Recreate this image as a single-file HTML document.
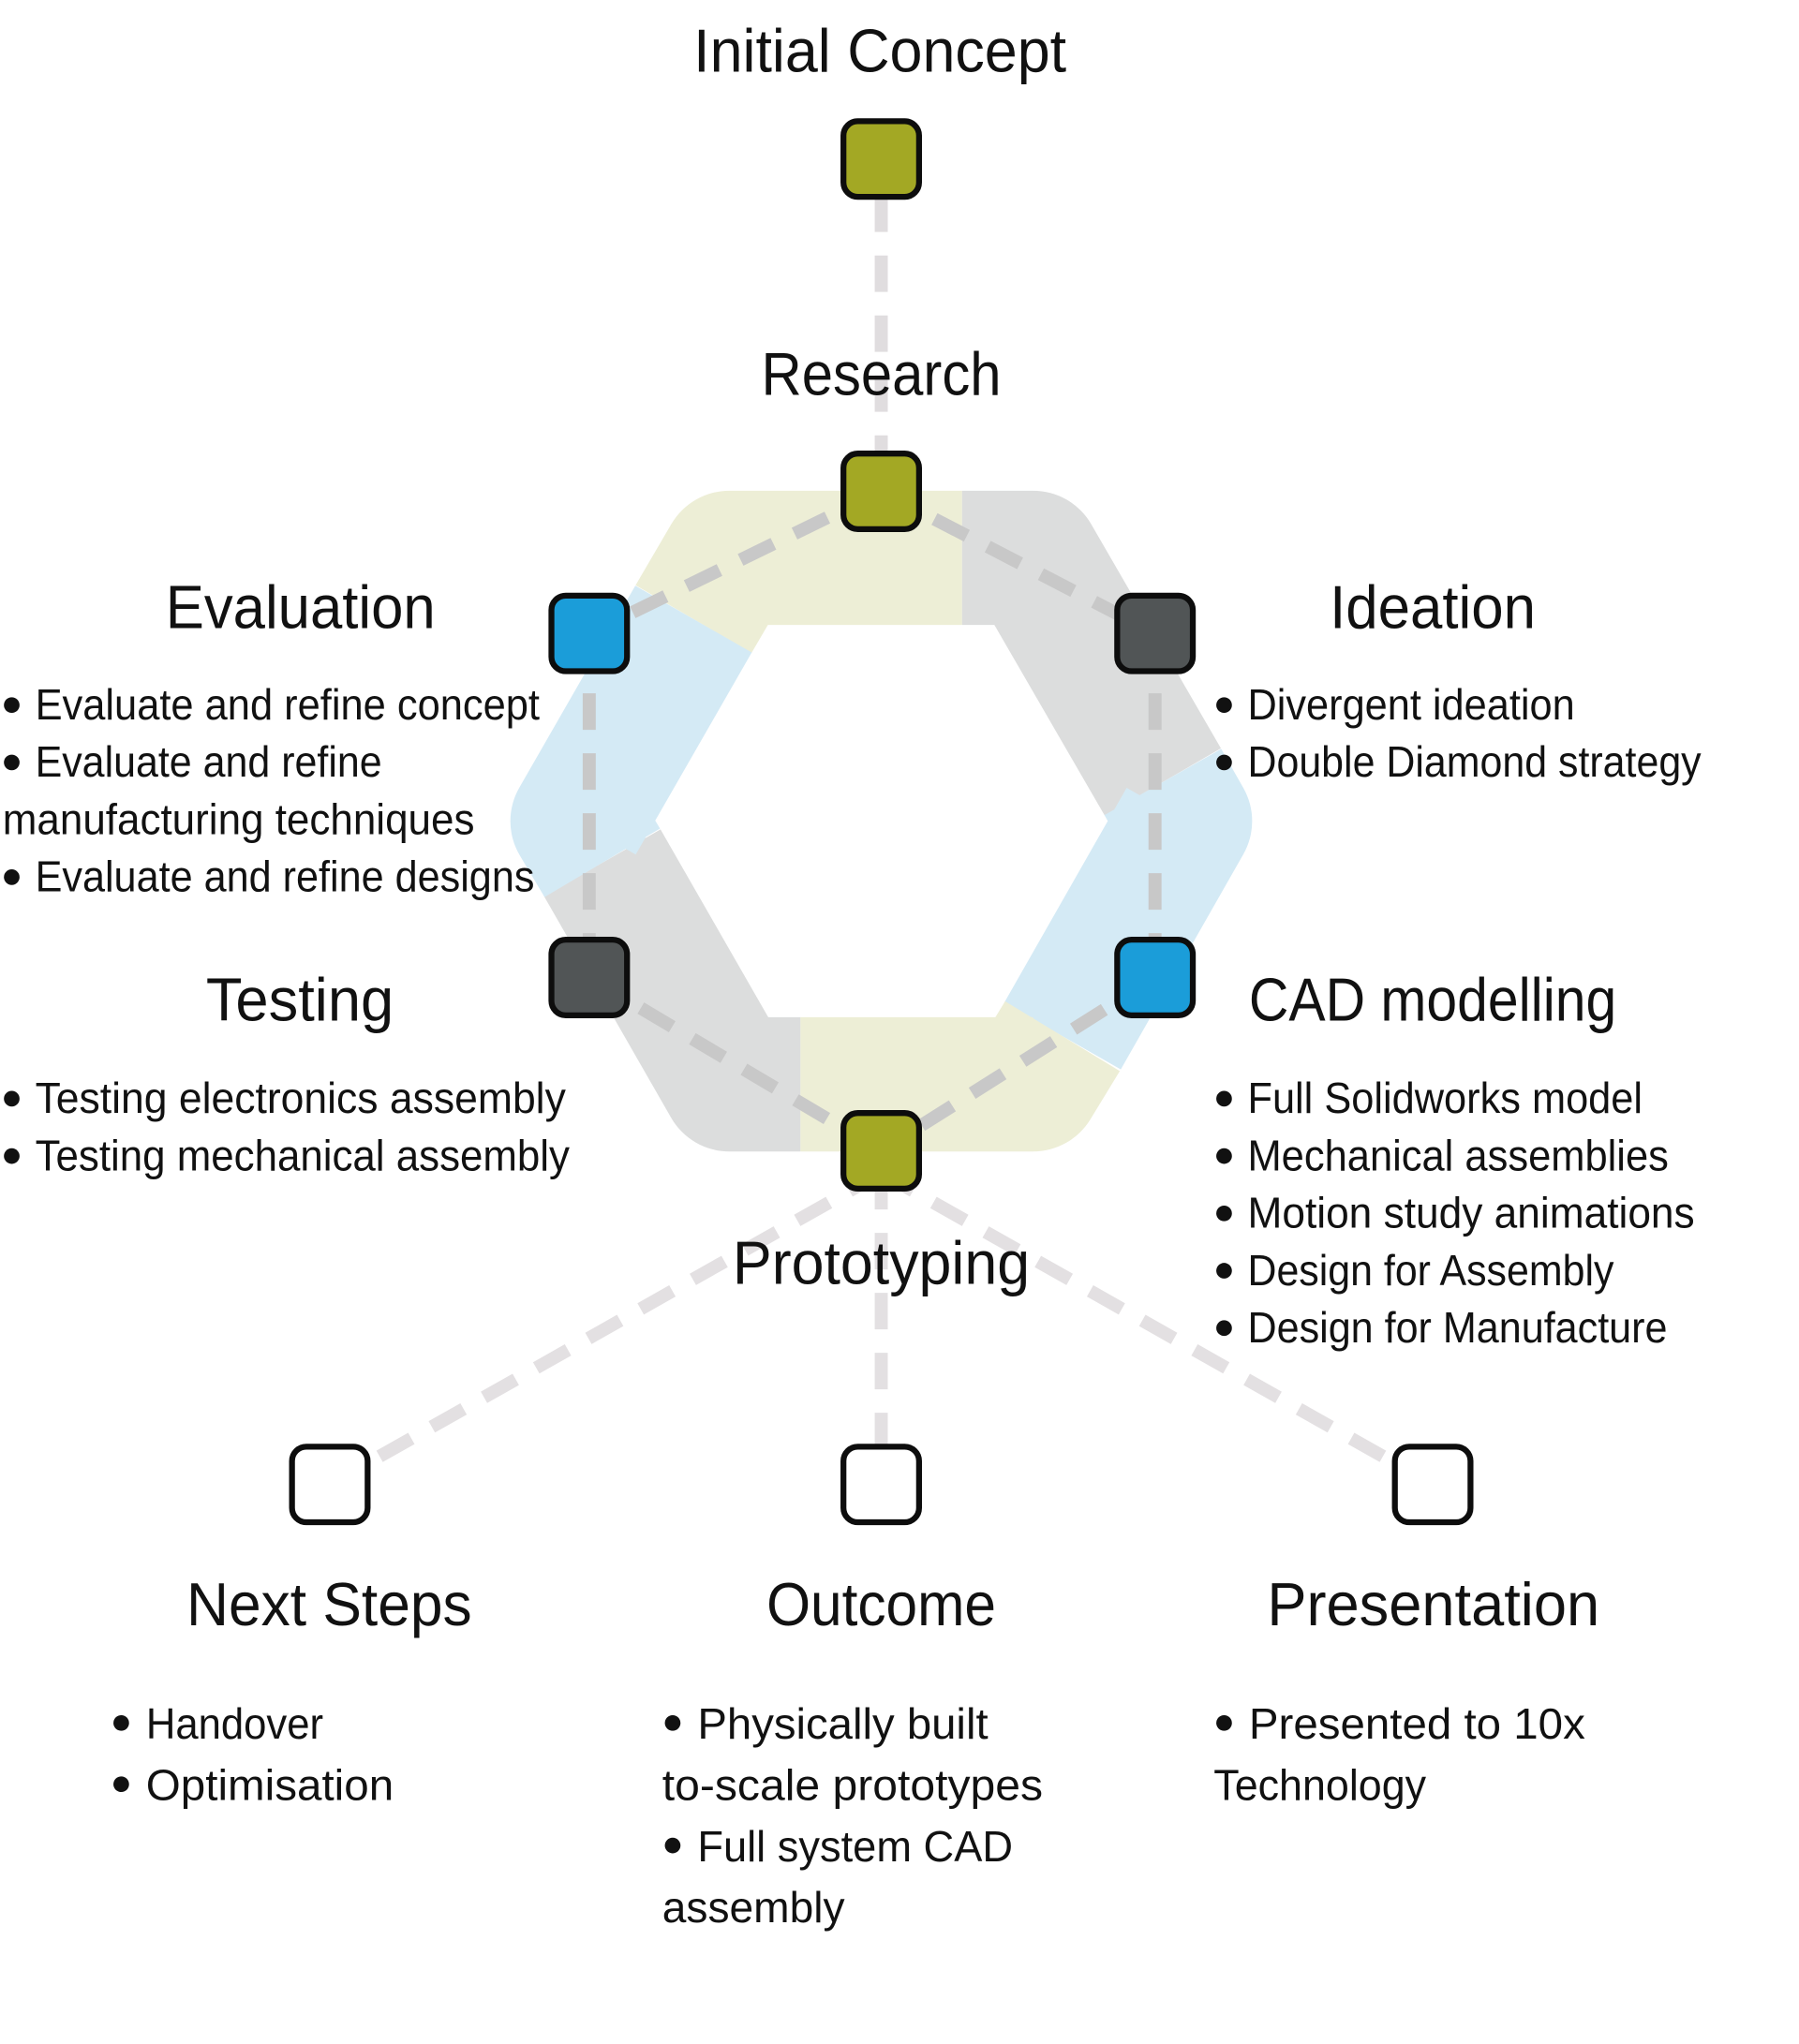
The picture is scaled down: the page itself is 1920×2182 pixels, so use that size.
<!DOCTYPE html>
<html><head><meta charset="utf-8"><style>
html,body{margin:0;padding:0;background:#fff;}
svg{display:block;}
text{font-family:"Liberation Sans Narrow","Liberation Sans",sans-serif;fill:#111;}
.t{font-size:47px;}
.b{font-size:33px;}
</style></head><body>
<svg width="1920" height="2182" viewBox="0 0 1380 1568.3" xmlns="http://www.w3.org/2000/svg">
<rect width="1380" height="1569" fill="#fff"/>
<!-- ring segments -->
<g fill="none" stroke-width="103" stroke-linejoin="round">
<path d="M532,475 L559.5,428 L738,428" stroke="#edeed6"/>
<path d="M738,428 L792.5,428 L892,600" stroke="#dcdddd"/>
<path d="M892,600 L909,630 L815,795" stroke="#d4eaf5"/>
<path d="M815,795 L792.5,832 L614,832" stroke="#edeed6"/>
<path d="M614,832 L559.5,832 L462,662" stroke="#dcdddd"/>
<path d="M462,662 L443,630 L532,475" stroke="#d4eaf5"/>
</g>
<!-- dashed connectors -->
<g fill="none" stroke-width="10" stroke-dasharray="28 18">
<path d="M676,150 L676,350" stroke="#e0dddf"/>
<path d="M676,900 L676,1110" stroke="#e3e0e2"/>
<path d="M676,900 L253,1139" stroke="#e3e0e2"/>
<path d="M676,900 L1099,1139" stroke="#e3e0e2"/>
<path d="M676,377 L886,486" stroke="#c8c8c8"/>
<path d="M676,377 L452,486" stroke="#c8c8c8"/>
<path d="M886,486 L886,750" stroke="#c8c8c8"/>
<path d="M452,486 L452,750" stroke="#c8c8c8"/>
<path d="M452,750 L676,883" stroke="#c8c8c8"/>
<path d="M886,750 L676,883" stroke="#c8c8c8"/>
</g>
<!-- nodes -->
<g stroke="#0d0d0d" stroke-width="4.5">
<rect x="647" y="93" width="58" height="58" rx="11" fill="#a3a824"/>
<rect x="647" y="348" width="58" height="58" rx="11" fill="#a3a824"/>
<rect x="857" y="457" width="58" height="58" rx="11" fill="#515556"/>
<rect x="423" y="457" width="58" height="58" rx="11" fill="#1b9dd9"/>
<rect x="857" y="721" width="58" height="58" rx="11" fill="#1b9dd9"/>
<rect x="423" y="721" width="58" height="58" rx="11" fill="#515556"/>
<rect x="647" y="854" width="58" height="58" rx="11" fill="#a3a824"/>
<rect x="224" y="1110" width="58" height="58" rx="11" fill="#fff"/>
<rect x="647" y="1110" width="58" height="58" rx="11" fill="#fff"/>
<rect x="1070" y="1110" width="58" height="58" rx="11" fill="#fff"/>
</g>
<!-- titles -->
<g class="t">
<text x="532" y="55" textLength="286" lengthAdjust="spacingAndGlyphs">Initial Concept</text>
<text x="584" y="303" textLength="184" lengthAdjust="spacingAndGlyphs">Research</text>
<text x="127" y="482" textLength="207" lengthAdjust="spacingAndGlyphs">Evaluation</text>
<text x="1020" y="482" textLength="158" lengthAdjust="spacingAndGlyphs">Ideation</text>
<text x="158" y="783" textLength="144" lengthAdjust="spacingAndGlyphs">Testing</text>
<text x="958" y="783" textLength="282" lengthAdjust="spacingAndGlyphs">CAD modelling</text>
<text x="562" y="985" textLength="228" lengthAdjust="spacingAndGlyphs">Prototyping</text>
<text x="143" y="1247" textLength="219" lengthAdjust="spacingAndGlyphs">Next Steps</text>
<text x="588" y="1247" textLength="176" lengthAdjust="spacingAndGlyphs">Outcome</text>
<text x="972" y="1247" textLength="255" lengthAdjust="spacingAndGlyphs">Presentation</text>
</g>
<!-- bullets -->
<g fill="#111">
<circle cx="9" cy="541" r="6"/><circle cx="9" cy="585" r="6"/><circle cx="9" cy="673" r="6"/>
<circle cx="939" cy="541" r="6"/><circle cx="939" cy="585" r="6"/>
<circle cx="9" cy="843" r="6"/><circle cx="9" cy="887" r="6"/>
<circle cx="939" cy="843" r="6"/><circle cx="939" cy="887" r="6"/><circle cx="939" cy="931" r="6"/><circle cx="939" cy="975" r="6"/><circle cx="939" cy="1019" r="6"/>
<circle cx="93" cy="1322" r="6"/><circle cx="93" cy="1369" r="6"/>
<circle cx="516" cy="1322" r="6"/><circle cx="516" cy="1416" r="6"/>
<circle cx="939" cy="1322" r="6"/>
</g>
<g class="b">
<text x="27" y="552" textLength="387" lengthAdjust="spacingAndGlyphs">Evaluate and refine concept</text>
<text x="27" y="596" textLength="266" lengthAdjust="spacingAndGlyphs">Evaluate and refine</text>
<text x="2" y="640" textLength="362" lengthAdjust="spacingAndGlyphs">manufacturing techniques</text>
<text x="27" y="684" textLength="383" lengthAdjust="spacingAndGlyphs">Evaluate and refine designs</text>
<text x="957" y="552" textLength="251" lengthAdjust="spacingAndGlyphs">Divergent ideation</text>
<text x="957" y="596" textLength="348" lengthAdjust="spacingAndGlyphs">Double Diamond strategy</text>
<text x="27" y="854" textLength="407" lengthAdjust="spacingAndGlyphs">Testing electronics assembly</text>
<text x="27" y="898" textLength="410" lengthAdjust="spacingAndGlyphs">Testing mechanical assembly</text>
<text x="957" y="854" textLength="303" lengthAdjust="spacingAndGlyphs">Full Solidworks model</text>
<text x="957" y="898" textLength="323" lengthAdjust="spacingAndGlyphs">Mechanical assemblies</text>
<text x="957" y="942" textLength="343" lengthAdjust="spacingAndGlyphs">Motion study animations</text>
<text x="957" y="986" textLength="281" lengthAdjust="spacingAndGlyphs">Design for Assembly</text>
<text x="957" y="1030" textLength="322" lengthAdjust="spacingAndGlyphs">Design for Manufacture</text>
<text x="112" y="1334" textLength="136" lengthAdjust="spacingAndGlyphs">Handover</text>
<text x="112" y="1381" textLength="190" lengthAdjust="spacingAndGlyphs">Optimisation</text>
<text x="535" y="1334" textLength="223" lengthAdjust="spacingAndGlyphs">Physically built</text>
<text x="508" y="1381" textLength="292" lengthAdjust="spacingAndGlyphs">to-scale prototypes</text>
<text x="535" y="1428" textLength="242" lengthAdjust="spacingAndGlyphs">Full system CAD</text>
<text x="508" y="1475" textLength="140" lengthAdjust="spacingAndGlyphs">assembly</text>
<text x="958" y="1334" textLength="258" lengthAdjust="spacingAndGlyphs">Presented to 10x</text>
<text x="931" y="1381" textLength="163" lengthAdjust="spacingAndGlyphs">Technology</text>
</g>
</svg>
</body></html>
